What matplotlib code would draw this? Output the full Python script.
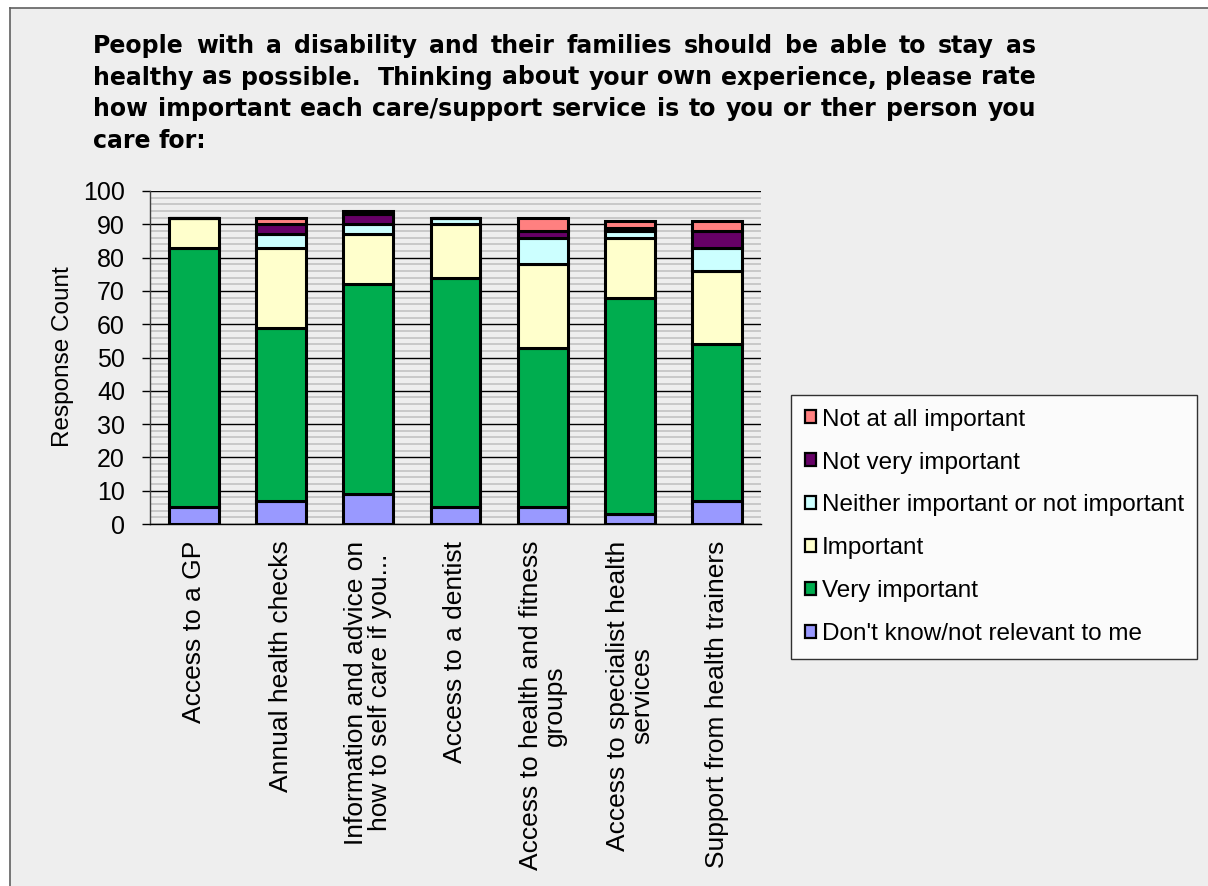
import matplotlib
matplotlib.use("Agg")
import matplotlib.pyplot as plt
from matplotlib.patches import Rectangle
from matplotlib.lines import Line2D
import numpy as np

# ---- data ----
categories = [
    "Access to a GP",
    "Annual health checks",
    "Information and advice on\nhow to self care if you...",
    "Access to a dentist",
    "Access to health and fitness\ngroups",
    "Access to specialist health\nservices",
    "Support from health trainers",
]
series_names = [
    "Don't know/not relevant to me",
    "Very important",
    "Important",
    "Neither important or not important",
    "Not very important",
    "Not at all important",
]
dont_know = [5, 7, 9, 5, 5, 3, 7]
very_important = [78, 52, 63, 69, 48, 65, 47]
important = [9, 24, 15, 16, 25, 18, 22]
neither = [0, 4, 3, 2, 8, 2, 7]
not_very = [0, 3, 3, 0, 2, 1, 5]
not_at_all = [0, 2, 1, 0, 4, 2, 3]
series_values = [dont_know, very_important, important, neither, not_very, not_at_all]
series_colors = ["#9999FF", "#00AD4F", "#FFFFCC", "#CCFFFF", "#660066", "#FF8080"]

title_lines = [
    "People with a disability and their families should be able to stay as",
    "healthy as possible.  Thinking about your own experience, please rate",
    "how important each care/support service is to you or ther person you",
    "care for:",
]
y_label = "Response Count"

# ---- figure ----
W, H, DPI = 1208, 886, 100
BG = "#EEEEEE"
fig = plt.figure(figsize=(W / DPI, H / DPI), dpi=DPI, facecolor="white")

def fx(px):
    return px / W

def fy(py):
    return 1 - py / H

# framed grey panel
fig.patches.append(Rectangle((fx(10), 0), 1 - fx(10), fy(8), transform=fig.transFigure,
                             facecolor=BG, edgecolor="none", zorder=-10))
fig.add_artist(Line2D([fx(10), 1], [fy(8), fy(8)], transform=fig.transFigure,
                      color="#606060", lw=1.2, zorder=-9))
fig.add_artist(Line2D([fx(10), fx(10)], [0, fy(8)], transform=fig.transFigure,
                      color="#606060", lw=1.2, zorder=-9))

ax_left, ax_right, ax_top, ax_bottom = 150, 761, 191, 524
ax = fig.add_axes([fx(ax_left), fy(ax_bottom), fx(ax_right - ax_left),
                   (ax_bottom - ax_top) / H])
ax.set_facecolor(BG)

FONT = "Liberation Sans"
FS = 17.5

x = np.arange(len(categories))
bottom = np.zeros(len(categories))
handles = []
for name, vals, col in zip(series_names, series_values, series_colors):
    vals = np.array(vals, dtype=float)
    ax.bar(x, vals, bottom=bottom, width=0.57, color=col, edgecolor="black",
           linewidth=2.2, zorder=3)
    bottom += vals
    handles.append(Rectangle((0, 0), 1, 1, facecolor=col, edgecolor="black", linewidth=1.6))

ax.set_xlim(-0.5, len(categories) - 0.5)
ax.set_ylim(0, 100)
ax.set_yticks(np.arange(0, 101, 10))
ax.set_yticks(np.arange(0, 101, 2), minor=True)
ax.grid(axis="y", which="minor", color="#C8C8C8", linewidth=1.4, zorder=1)
ax.grid(axis="y", which="major", color="black", linewidth=1.0, zorder=2)
ax.set_axisbelow(True)

for side in ("top", "right"):
    ax.spines[side].set_visible(False)
ax.spines["left"].set_color("#404040")
ax.spines["left"].set_linewidth(1.0)
ax.spines["bottom"].set_color("black")
ax.spines["bottom"].set_linewidth(1.0)
ax.spines["bottom"].set_zorder(4)

ax.set_xticks(x)
ax.set_xticklabels(categories, rotation=90, ha="center", va="top",
                   multialignment="center", fontsize=19, family=FONT,
                   linespacing=1.0)
ax.tick_params(axis="x", length=0, pad=12)
ax.tick_params(axis="y", which="major", length=6, width=1.0, color="black",
               pad=12, labelsize=18)
ax.tick_params(axis="y", which="minor", length=0)
for lbl in ax.get_yticklabels():
    lbl.set_family(FONT)

fig.text(fx(63), fy(357), y_label, rotation=90, ha="center", va="center",
         fontsize=FS, family=FONT)

# legend, top entry first
leg = fig.legend(handles[::-1], series_names[::-1], loc="upper left",
                 bbox_to_anchor=(fx(791), fy(395)), bbox_transform=fig.transFigure,
                 borderaxespad=0, prop={"family": FONT, "size": FS},
                 handlelength=0.45, handleheight=0.45, handletextpad=0.25,
                 labelspacing=0.86, borderpad=0.56, frameon=True, fancybox=False)
leg.get_frame().set_edgecolor("black")
leg.get_frame().set_linewidth(1.0)
leg.get_frame().set_facecolor("white")

# justified bold heading
renderer = fig.canvas.get_renderer()
TL, TR = 93, 1036
TFS = 17
base0, step = 53, 31.5
HFONT = "DejaVu Sans"

def word_width(s):
    t = fig.text(0, 0, s, fontsize=TFS, fontweight="bold", family=HFONT)
    w = t.get_window_extent(renderer).width
    t.remove()
    return w

natural_space = word_width("a a") - 2 * word_width("a")
for i, line in enumerate(title_lines):
    words = line.split(" ")
    texts = [fig.text(0, 0, w, fontsize=TFS, fontweight="bold", family=HFONT,
                      va="baseline", ha="left") for w in words]
    widths = [t.get_window_extent(renderer).width if w else 0.0
              for t, w in zip(texts, words)]
    if i == len(title_lines) - 1 or len(words) == 1:
        gap = natural_space
    else:
        gap = (TR - TL - sum(widths)) / (len(words) - 1)
    xpos = TL
    ypos = base0 + i * step
    for t, wdt in zip(texts, widths):
        t.set_position((fx(xpos), fy(ypos)))
        xpos += wdt + gap

fig.savefig("out.png", dpi=DPI, facecolor=fig.get_facecolor())
